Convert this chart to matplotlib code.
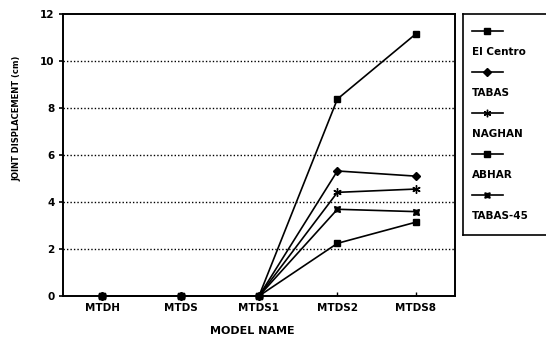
import matplotlib
matplotlib.use("Agg")
import matplotlib.pyplot as plt

plt.rcParams['font.family'] = ['DejaVu Sans']
plt.rcParams['font.weight'] = 'bold'

models = ['MTDH', 'MTDS', 'MTDS1', 'MTDS2', 'MTDS8']
el_centro = [0, 0, 0, 8.38, 11.15]
tabas = [0, 0, 0, 5.32, 5.1]
naghan = [0, 0, 0, 4.41, 4.55]
abhar = [0, 0, 0, 2.24, 3.14]
tabas45 = [0, 0, 0, 3.69, 3.59]

series_names = ['El Centro', 'TABAS', 'NAGHAN', 'ABHAR', 'TABAS-45']
series_vals = [el_centro, tabas, naghan, abhar, tabas45]
markers = ['s', 'D', (6, 2, 0), 's', (4, 1, 45)]
msizes = [5, 4, 6, 4.5, 6]

fig = plt.figure(figsize=(5.46, 3.37), dpi=100)
ax = fig.add_axes([0.1154, 0.1217, 0.7179, 0.8368])

x = list(range(len(models)))
for vals, mk, ms in zip(series_vals, markers, msizes):
    ax.plot(x, vals, color='black', lw=1.2, marker=mk, ms=ms,
            mfc='black', mec='black', clip_on=False, zorder=3)

ax.set_xlim(-0.5, 4.5)
ax.set_ylim(0, 12)
ax.set_yticks([0, 2, 4, 6, 8, 10, 12])
ax.set_xticks(x)
ax.set_xticklabels(models, fontsize=7.5, fontweight='bold')
ax.tick_params(axis='y', labelsize=7.5, direction='out', length=3, width=1.2, pad=3)
ax.tick_params(axis='x', direction='in', length=3, width=1, pad=5)
for lbl in ax.get_yticklabels():
    lbl.set_fontweight('bold')
for gy in [2, 4, 6, 8, 10]:
    ax.axhline(gy, color='black', lw=1, ls=(0, (1, 1.5)), zorder=1)
for sp in ax.spines.values():
    sp.set_linewidth(1.4)

ax.set_xlabel('MODEL NAME', fontsize=8, fontweight='bold', labelpad=6)
ax.xaxis.set_label_coords(0.483, -0.105)
ax.set_ylabel('JOINT DISPLACEMENT (cm)', fontsize=6, fontweight='bold')
ax.yaxis.set_label_coords(-0.105, 0.63)

# legend box: handle drawn above its label
lax = fig.add_axes([0.848, 0.3027, 0.17, 0.656])
lax.set_xlim(0, 93)
lax.set_ylim(221, 0)
lax.set_xticks([])
lax.set_yticks([])
for sp in lax.spines.values():
    sp.set_linewidth(1.2)
for i, (name, mk, ms) in enumerate(zip(series_names, markers, msizes)):
    yl = 17 + 41 * i
    lax.plot([9, 40], [yl, yl], color='black', lw=1.2)
    lax.plot([24.5], [yl], color='black', marker=mk, ms=ms * 0.9)
    lax.text(9, yl + 21, name, fontsize=7.5, fontweight='bold', va='center', ha='left')

fig.savefig('out.png', dpi=100)
